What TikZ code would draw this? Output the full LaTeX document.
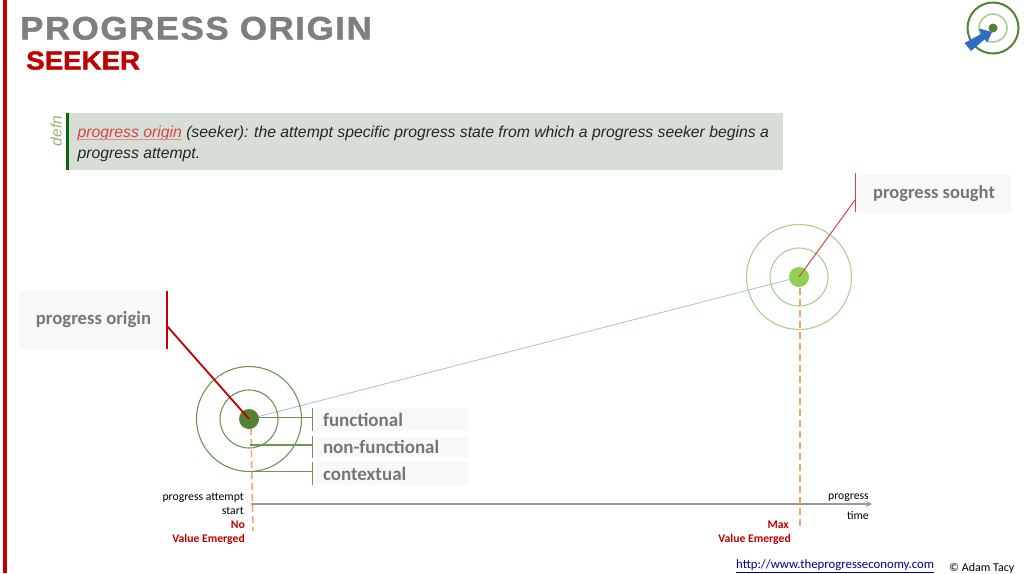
\documentclass[tikz,border=0pt]{standalone}
\usepackage{fontspec}
\setmainfont{Liberation Sans}
\newfontfamily\carl{Carlito}
\newfontfamily\titlefont[FakeBold=1.5,FakeStretch=1.07,LetterSpace=5]{Liberation Sans Bold}
\newfontfamily\subfont[FakeBold=1.5,FakeStretch=1.065]{Liberation Sans Bold}
\usetikzlibrary{arrows.meta,calc}
\definecolor{redbar}{HTML}{C00000}
\definecolor{titlegray}{HTML}{7F7F7F}
\definecolor{defbg}{HTML}{D7DED6}
\definecolor{dgreen}{HTML}{548235}
\definecolor{lgreen}{HTML}{A9D18E}
\definecolor{bgreen}{HTML}{92D050}
\definecolor{orangeD}{HTML}{F4A070}
\definecolor{blueL}{HTML}{A4BDE6}
\definecolor{labgray}{HTML}{767676}
\definecolor{labbg}{HTML}{F8F8F8}
\definecolor{logoblue}{HTML}{2F6DC4}
\definecolor{softred}{HTML}{D64545}
\definecolor{barGreen}{HTML}{0B660B}
\tikzset{
  x=1pt,y=-1pt,
  lab/.style={fill=labbg,text=labgray,inner sep=0pt,anchor=center},
  sm/.style={font=\carl\fontsize{11.7}{13}\selectfont,inner sep=0pt},
  redsm/.style={font=\carl\bfseries\fontsize{11.7}{13}\selectfont,inner sep=0pt,text=redbar},
  dashv/.style={orangeD,line width=1.5pt,dash pattern=on 7pt off 4pt},
  gring/.style={dgreen!85,line width=1.1pt},
  lring/.style={lgreen,line width=1.1pt},
  gtie/.style={dgreen!85,line width=1.4pt},
  deftext/.style={anchor=base west,inner sep=0pt,font=\itshape\fontsize{15.75}{15}\selectfont,text=black!85},
}
\begin{document}
\begin{tikzpicture}
\useasboundingbox (0,0) rectangle (1024,573);
\fill[white] (0,0) rectangle (1024,573);
\fill[redbar] (3,0) rectangle (7,573);
% title
\node[inner sep=0pt,anchor=base west,text=titlegray] (title) at (20,39.5) {\fontsize{32.5}{32}\selectfont\titlefont PROGRESS ORIGIN};
\node[inner sep=0pt,anchor=base west,text=redbar] (sub) at (26,69.5) {\fontsize{26}{26}\selectfont\subfont SEEKER};
% definition
\fill[defbg] (66,113) rectangle (783,170);
\fill[barGreen] (66,113) rectangle (69,170);
\node[rotate=90,text=lgreen!70!dgreen,font=\itshape\fontsize{15.5}{15}\selectfont,inner sep=0pt] (defn) at (56,131) {defn};
\node[deftext] (d1) at (77.5,137) {\textcolor{softred}{progress origin} (seeker): the attempt specific progress state from which a progress seeker begins a};
\node[deftext] (d2) at (77.5,158) {progress attempt.};
\draw[softred!60,line width=0.8pt] (77.5,139.5) -- (182,139.5);
% targets
\coordinate (O) at (249,419);
\coordinate (S) at (799,277);
\draw[blueL,line width=0.8pt] (O) -- (S);
\draw[gring] (O) circle (52.5);
\draw[gring] (O) circle (29);
\draw[lring] (S) circle (52.5);
\draw[lring] (S) circle (29);
% axis
\coordinate (axS) at (251,504);
\coordinate (axE) at (872,504);
\draw[gray!80,line width=1.2pt,-{Stealth[length=6pt,width=6pt]}] (axS) -- (axE);
% dashed
\coordinate (dO1) at (251,428);
\coordinate (dO2) at (253,531);
\coordinate (dS1) at (800,288);
\coordinate (dS2) at (800,530);
\draw[dashv] (dO1) -- (dO2);
\draw[dashv] (dS1) -- (dS2);
\fill[dgreen] (O) circle (10);
\fill[bgreen] (S) circle (10);
% origin label
\node[lab,minimum width=149,minimum height=58,font=\carl\bfseries\fontsize{18.7}{20}\selectfont] (lo) at (93.5,320) {progress origin};
\coordinate (lot) at (167,291);
\coordinate (lob) at (167,349);
\coordinate (loc) at (167,326);
\draw[redbar,line width=1.6pt] (lot) -- (lob);
\draw[redbar,line width=1.8pt] (loc) -- (O);
% sought label
\node[lab,minimum width=154,minimum height=38,font=\carl\bfseries\fontsize{18.5}{20}\selectfont] (ls) at (934,193.5) {\raisebox{-1pt}{progress sought}};
\coordinate (lst) at (855,173);
\coordinate (lsb) at (855,212);
\coordinate (lsc) at (855,200);
\draw[softred,line width=1pt] (lst) -- (lsb);
\draw[softred,line width=1pt] (lsc) -- (S);
% attribute labels
\node[lab,minimum width=152,minimum height=23,text width=138,align=left,font=\carl\bfseries\fontsize{19}{20}\selectfont] (f) at (392,419.5) {functional};
\node[lab,minimum width=152,minimum height=20,text width=138,align=left,font=\carl\bfseries\fontsize{19}{20}\selectfont] (n) at (392,447) {non-functional};
\node[lab,minimum width=152,minimum height=23,text width=138,align=left,font=\carl\bfseries\fontsize{19}{20}\selectfont] (c) at (392,473.5) {contextual};
\foreach \y/\a/\b/\s in {417.7/408/430.5/259, 445/436/458/250, 471.7/462/485/250}{
  \draw[gtie] (312.5,\a) -- (312.5,\b);
  \draw[gtie] (\s,\y) -- (312.5,\y);
}
% axis text
\node[sm,anchor=base east] (pa) at (244,500) {progress attempt};
\node[sm,anchor=base east] (st) at (244,514) {start};
\node[redsm,anchor=base east] (no) at (245,528) {No};
\node[redsm,anchor=base east] (ve) at (245,542) {Value Emerged};
\node[redsm,anchor=base east] (mx) at (789,528) {Max};
\node[redsm,anchor=base east] (ve2) at (791,542) {Value Emerged};
\node[sm,anchor=base east] (pr) at (869,499) {progress};
\node[sm,anchor=base east] (ti) at (869,519) {time};
% footer
\node[anchor=base west,inner sep=0pt,text=blue!60!black,font=\carl\fontsize{12.75}{14}\selectfont] (url) at (736,568.5) {\underline{http://www.theprogresseconomy.com}};
\node[anchor=base west,inner sep=0pt,font=\carl\fontsize{12}{14}\selectfont] (cr) at (949,571) {© Adam Tacy};
% logo
\coordinate (L) at (993,28);
\draw[dgreen,line width=2pt] (L) circle (25.5);
\draw[lgreen,line width=1.6pt] (L) circle (14);
\fill[dgreen] (L) circle (4.5);
\fill[logoblue] (964.5,43) -- (981,34) -- (979,28.5) -- (992,32) -- (987,43) -- (985,39) -- (971,51) -- cycle;
\end{tikzpicture}
\end{document}
